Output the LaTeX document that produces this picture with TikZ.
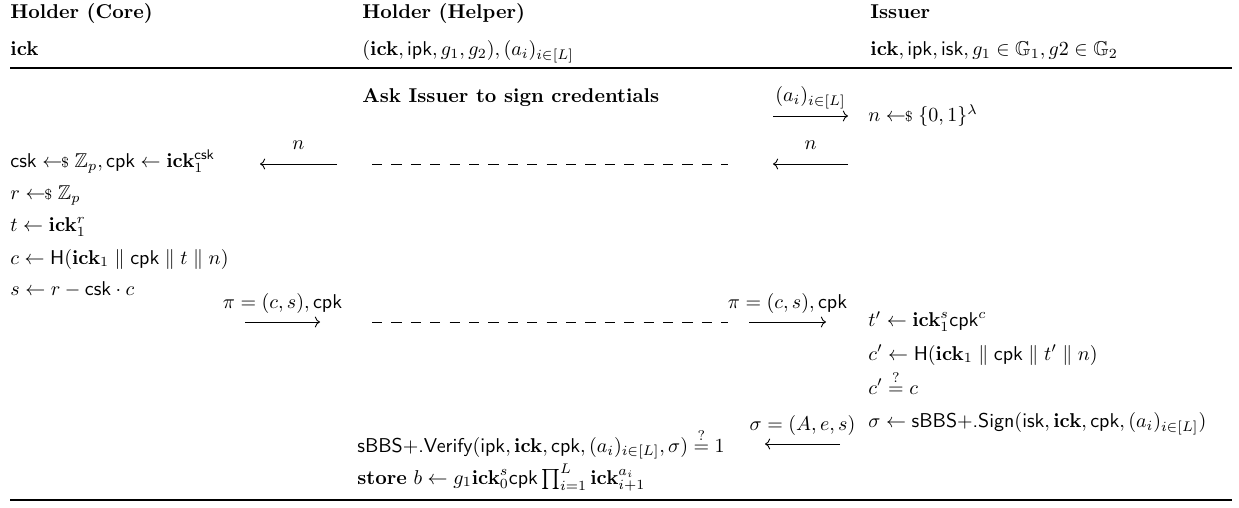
\documentclass[tikz,border=0pt]{standalone}
\usepackage{amsmath,amssymb}
\usepackage{tikz}
\usetikzlibrary{arrows.meta}
\newcommand{\smpl}{\mathrel{\leftarrow\!\!{\scriptstyle\$}}}
\newcommand{\ick}{\mathbf{ick}}

\begin{document}
\begin{tikzpicture}[x=0.5pt, y=-0.5pt,
    txt/.style={anchor=base west, inner sep=0pt},
    lbl/.style={anchor=base, inner sep=0pt, yshift=7pt},
    msg/.style={-{Computer Modern Rightarrow}, line width=0.45pt},
    rule/.style={line width=1pt},
    dashln/.style={line width=0.45pt, dash pattern=on 5.1pt off 4.6pt}]
    \useasboundingbox (0,0) rectangle (1239,508);
    % Headers
    \node[txt] (hcore) at (10,19) {\textbf{Holder (Core)}};
    \node[txt] (hhelp) at (362,19) {\textbf{Holder (Helper)}};
    \node[txt] (hiss) at (870,19) {\textbf{Issuer}};
    \node[txt] (kcore) at (10,56) {$\ick$};
    \node[txt] (khelp) at (362,56) {$(\ick, \mathsf{ipk}, g_1, g_2), (a_i)_{i\in[L]}$};
    \node[txt] (kiss) at (870,56) {$\ick, \mathsf{ipk}, \mathsf{isk}, g_1 \in \mathbb{G}_1, g2 \in \mathbb{G}_2$};
    \coordinate (top1) at (10,68);
    \coordinate (top2) at (1232,68);
    \draw[rule] (top1) -- (top2);
    % Request
    \node[txt] (ask) at (362,103) {\textbf{Ask Issuer to sign credentials}};
    \coordinate (a1) at (773,116);
    \coordinate (a2) at (848,116);
    \draw[msg] (a1) -- node[lbl] {$(a_i)_{i\in[L]}$} (a2);
    \node[txt] (nonce) at (868,122) {$n \smpl \{0,1\}^\lambda$};
    % Nonce back
    \coordinate (n1) at (848,164);
    \coordinate (n2) at (773,164);
    \draw[msg] (n1) -- node[lbl] {$n$} (n2);
    \coordinate (d1) at (372,164);
    \coordinate (d2) at (728,164);
    \draw[dashln] (d1) -- (d2);
    \coordinate (n3) at (337,164);
    \coordinate (n4) at (260,164);
    \draw[msg] (n3) -- node[lbl] {$n$} (n4);
    % Core proof
    \node[txt] (ck1) at (10,168) {$\mathsf{csk} \smpl \mathbb{Z}_p, \mathsf{cpk} \leftarrow \ick_1^{\mathsf{csk}}$};
    \node[txt] (ck2) at (10,200) {$r \smpl \mathbb{Z}_p$};
    \node[txt] (ck3) at (10,232) {$t \leftarrow \ick_1^r$};
    \node[txt] (ck4) at (10,264) {$c \leftarrow \mathsf{H}(\ick_1 \parallel \mathsf{cpk} \parallel t \parallel n)$};
    \node[txt] (ck5) at (10,296) {$s \leftarrow r - \mathsf{csk} \cdot c$};
    \coordinate (p1) at (245,322);
    \coordinate (p2) at (320,322);
    \draw[msg] (p1) -- node[lbl] {$\pi = (c,s), \mathsf{cpk}$} (p2);
    \coordinate (d3) at (372,322);
    \coordinate (d4) at (728,322);
    \draw[dashln] (d3) -- (d4);
    \coordinate (p3) at (749,322);
    \coordinate (p4) at (826,322);
    \draw[msg] (p3) -- node[lbl] {$\pi = (c,s), \mathsf{cpk}$} (p4);
    % Issuer checks and signs
    \node[txt] (iv1) at (868,327) {$t' \leftarrow \ick_1^s\mathsf{cpk}^c$};
    \node[txt] (iv2) at (868,360) {$c' \leftarrow \mathsf{H}(\ick_1 \parallel \mathsf{cpk} \parallel t' \parallel n)$};
    \node[txt] (iv3) at (868,394) {$c' \stackrel{?}{=} c$};
    \node[txt] (iv4) at (868,428) {$\sigma \leftarrow \textsf{sBBS+.Sign}(\mathsf{isk}, \ick, \mathsf{cpk}, (a_i)_{i\in[L]})$};
    \coordinate (s1) at (840,444);
    \coordinate (s2) at (765,444);
    \draw[msg] (s1) -- node[lbl] {$\sigma = (A,e,s)$} (s2);
    % Helper stores
    \node[txt] (hv1) at (357,452) {$\textsf{sBBS+.Verify}(\mathsf{ipk}, \ick, \mathsf{cpk}, (a_i)_{i\in[L]}, \sigma) \stackrel{?}{=} 1$};
    \node[txt] (hv2) at (357,484) {\textbf{store} $b \leftarrow g_1 \ick_0^s \mathsf{cpk} \prod_{i=1}^{L} \ick_{i+1}^{a_i}$};
    \coordinate (bot1) at (10,500);
    \coordinate (bot2) at (1232,500);
    \draw[rule] (bot1) -- (bot2);
\end{tikzpicture}
\end{document}
